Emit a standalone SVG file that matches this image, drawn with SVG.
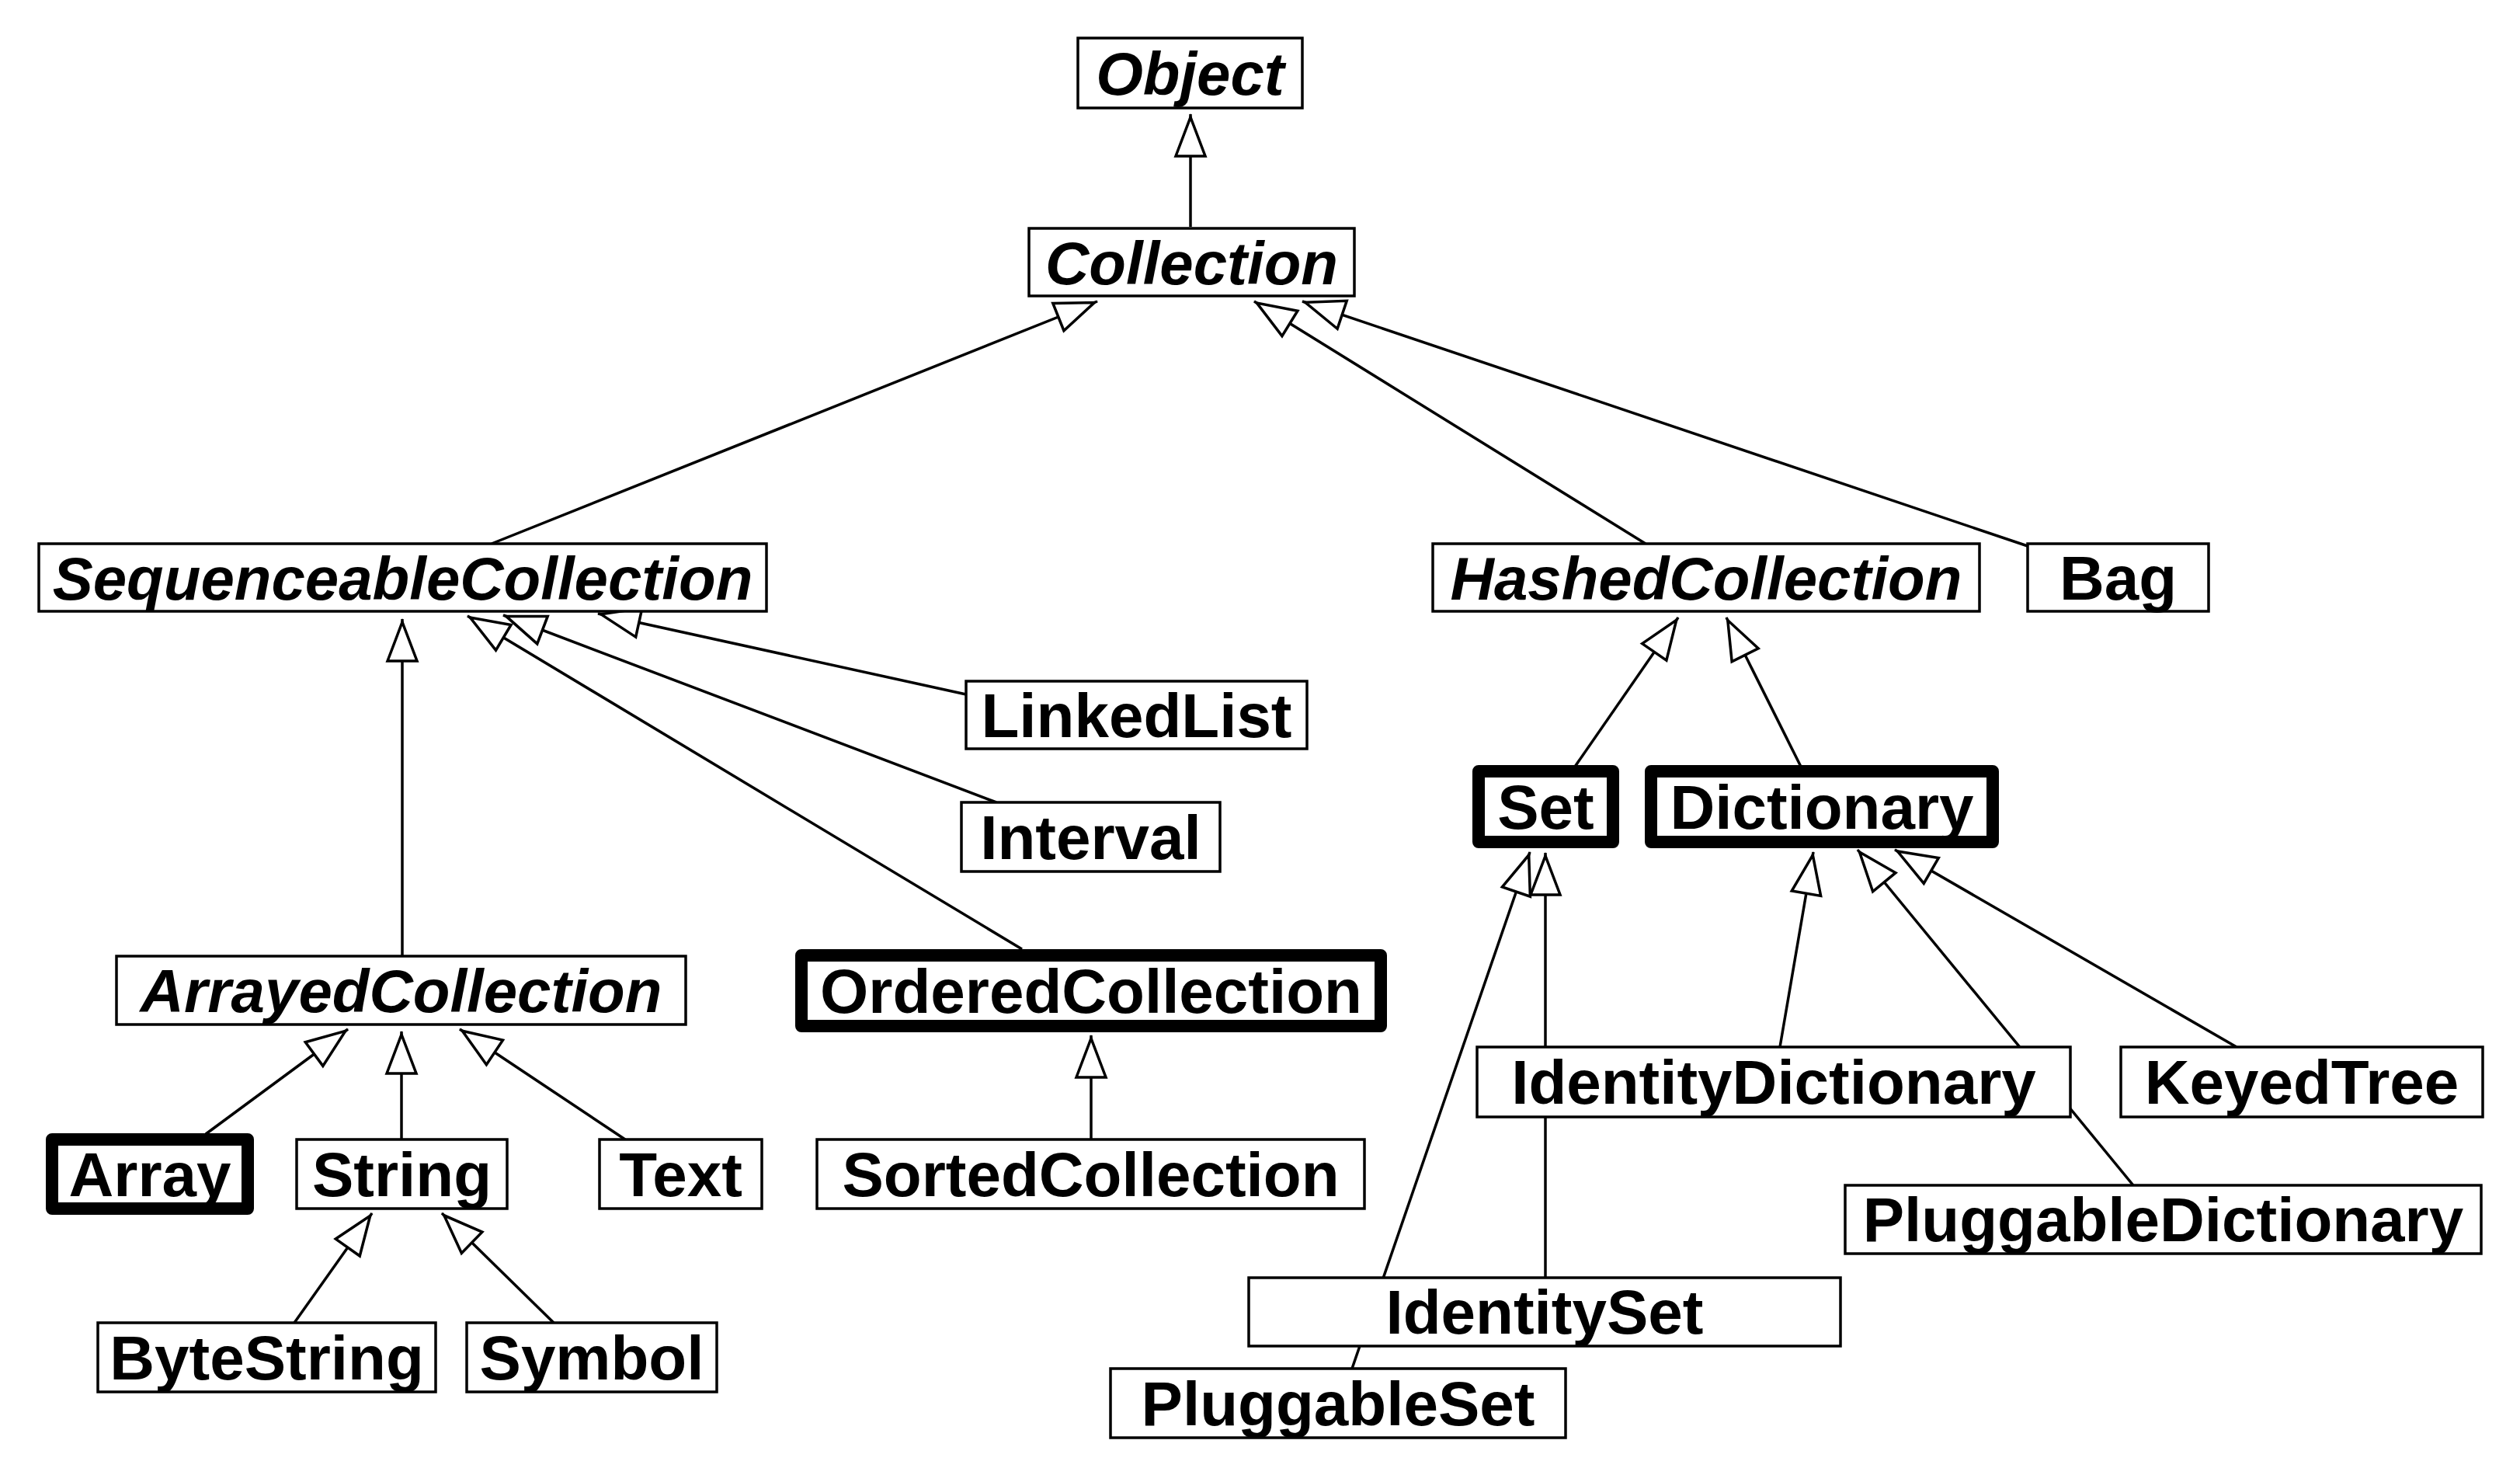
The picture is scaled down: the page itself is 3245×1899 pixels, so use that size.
<svg xmlns="http://www.w3.org/2000/svg" width="3245" height="1899" viewBox="0 0 3245 1899">
<style>
.box{fill:#fff;stroke:#000;stroke-width:3.5}
.bold{fill:#fff;stroke:#000;stroke-width:16;stroke-linejoin:round}
.lbl{font-family:"Liberation Sans",Arial,sans-serif;font-weight:bold;font-size:80px;text-anchor:middle;fill:#000}
.it{font-style:italic;font-size:78px}
.edge{stroke:#000;stroke-width:3.5;fill:none;marker-end:url(#tri)}
</style>
<defs>
<marker id="tri" markerUnits="userSpaceOnUse" viewBox="0 0 62 44" markerWidth="62" markerHeight="44" refX="57" refY="22" orient="auto" overflow="visible">
<path d="M3,3 L53,22 L3,41 Z" fill="#fff" stroke="#000" stroke-width="3.5"/>
</marker>
</defs>
<rect width="3245" height="1899" fill="#fff"/>
<g id="connectors">
<line class="edge" x1="1533" y1="292" x2="1533" y2="147"/>
<line class="edge" x1="633" y1="700" x2="1413" y2="388"/>
<line class="edge" x1="2119" y1="700" x2="1615" y2="388"/>
<line class="edge" x1="2611" y1="703" x2="1677" y2="388"/>
<line class="edge" x1="518" y1="1231" x2="518" y2="797"/>
<line class="edge" x1="1316" y1="1222" x2="602" y2="793"/>
<line class="edge" x1="1283" y1="1033" x2="648" y2="792"/>
<line class="edge" x1="1244" y1="894" x2="770" y2="790"/>
<line class="edge" x1="2028" y1="987" x2="2161" y2="795"/>
<line class="edge" x1="2319" y1="987" x2="2223" y2="795"/>
<line class="edge" x1="265" y1="1460" x2="448" y2="1325"/>
<line class="edge" x1="517" y1="1467" x2="517" y2="1328"/>
<line class="edge" x1="805" y1="1467" x2="592" y2="1325"/>
<line class="edge" x1="379" y1="1703" x2="479" y2="1562"/>
<line class="edge" x1="713" y1="1703" x2="569" y2="1562"/>
<line class="edge" x1="1405" y1="1467" x2="1405" y2="1333"/>
<line class="edge" x1="1990" y1="1645" x2="1990" y2="1098"/>
<line class="edge" x1="1741" y1="1762" x2="1970" y2="1097"/>
<line class="edge" x1="2292" y1="1348" x2="2335" y2="1097"/>
<line class="edge" x1="2747" y1="1526" x2="2392" y2="1094"/>
<line class="edge" x1="2880" y1="1348" x2="2440" y2="1094"/>
</g>
<g id="Object"><rect class="box" x="1388" y="49" width="289" height="90"/><text class="lbl it" x="1532.5" y="122">Object</text></g>
<g id="Collection"><rect class="box" x="1325" y="294" width="419" height="87"/><text class="lbl it" x="1534.5" y="365.5">Collection</text></g>
<g id="SequenceableCollection"><rect class="box" x="50" y="700" width="937" height="87"/><text class="lbl it" x="518.5" y="771.5">SequenceableCollection</text></g>
<g id="HashedCollection"><rect class="box" x="1845" y="700" width="704" height="87"/><text class="lbl it" x="2197" y="771.5">HashedCollection</text></g>
<g id="Bag"><rect class="box" x="2611" y="700" width="233" height="87"/><text class="lbl" x="2727.5" y="771.5">Bag</text></g>
<g id="LinkedList"><rect class="box" x="1244" y="877" width="439" height="87"/><text class="lbl" x="1463.5" y="948.5">LinkedList</text></g>
<g id="Interval"><rect class="box" x="1238" y="1033" width="333" height="89"/><text class="lbl" x="1404.5" y="1105.5">Interval</text></g>
<g id="Set"><rect class="bold" x="1904" y="993" width="173" height="91"/><text class="lbl" x="1990.5" y="1066.5">Set</text></g>
<g id="Dictionary"><rect class="bold" x="2126" y="993" width="440" height="91"/><text class="lbl" x="2346" y="1066.5">Dictionary</text></g>
<g id="ArrayedCollection"><rect class="box" x="150" y="1231" width="733" height="88"/><text class="lbl it" x="516.5" y="1303">ArrayedCollection</text></g>
<g id="OrderedCollection"><rect class="bold" x="1032" y="1230" width="746" height="91"/><text class="lbl" x="1405" y="1303.5">OrderedCollection</text></g>
<g id="SortedCollection"><rect class="box" x="1052" y="1467" width="705" height="89"/><text class="lbl" x="1404.5" y="1539.5">SortedCollection</text></g>
<g id="Array"><rect class="bold" x="67" y="1467" width="252" height="89"/><text class="lbl" x="193" y="1539.5">Array</text></g>
<g id="String"><rect class="box" x="382" y="1467" width="271" height="89"/><text class="lbl" x="517.5" y="1539.5">String</text></g>
<g id="Text"><rect class="box" x="772" y="1467" width="209" height="89"/><text class="lbl" x="876.5" y="1539.5">Text</text></g>
<g id="ByteString"><rect class="box" x="126" y="1703" width="435" height="89"/><text class="lbl" x="343.5" y="1775.5">ByteString</text></g>
<g id="Symbol"><rect class="box" x="601" y="1703" width="322" height="89"/><text class="lbl" x="762" y="1775.5">Symbol</text></g>
<g id="IdentityDictionary"><rect class="box" x="1902" y="1348" width="764" height="90"/><text class="lbl" x="2284" y="1421">IdentityDictionary</text></g>
<g id="KeyedTree"><rect class="box" x="2731" y="1348" width="466" height="90"/><text class="lbl" x="2964" y="1421">KeyedTree</text></g>
<g id="PluggableDictionary"><rect class="box" x="2376" y="1526" width="819" height="88"/><text class="lbl" x="2785.5" y="1598">PluggableDictionary</text></g>
<g id="IdentitySet"><rect class="box" x="1608" y="1645" width="762" height="88"/><text class="lbl" x="1989" y="1717">IdentitySet</text></g>
<g id="PluggableSet"><rect class="box" x="1430" y="1762" width="586" height="89"/><text class="lbl" x="1723" y="1834.5">PluggableSet</text></g>
</svg>
